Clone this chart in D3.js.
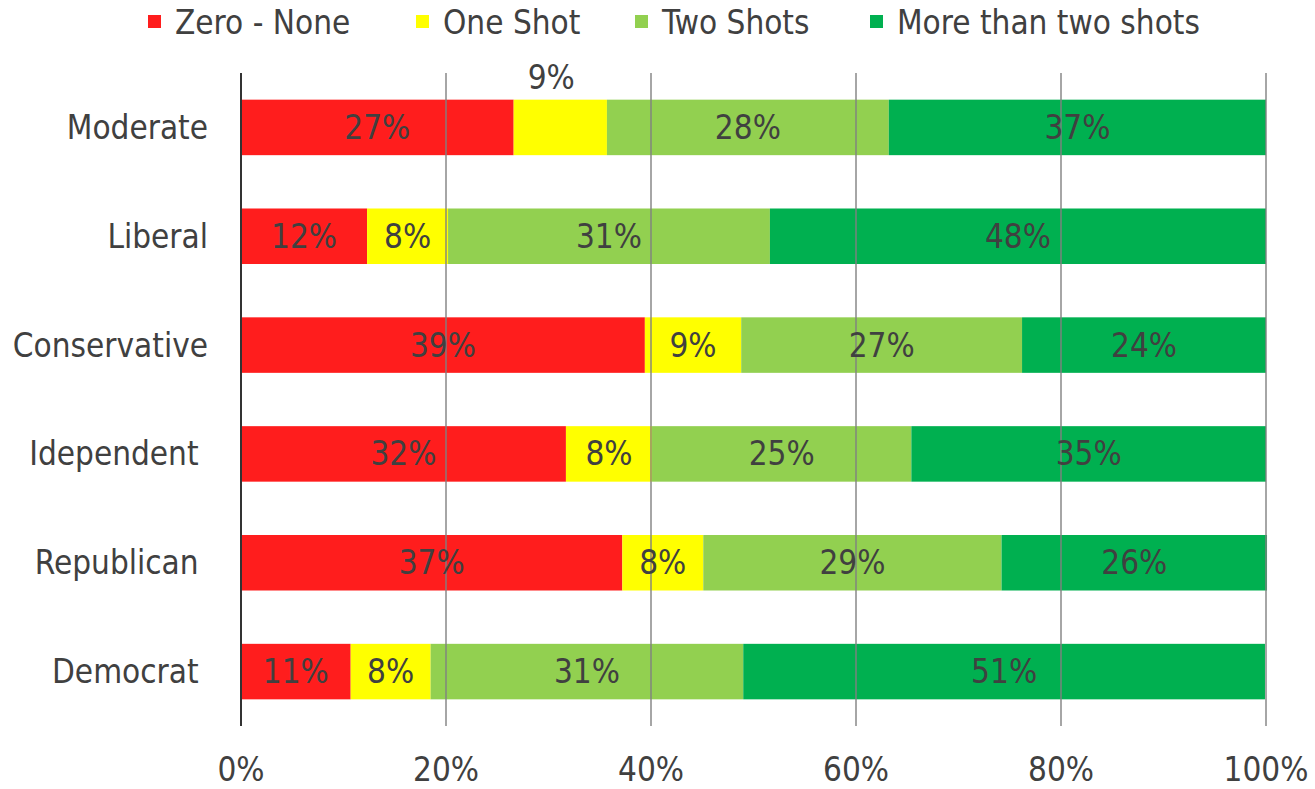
<!DOCTYPE html>
<html><head><meta charset="utf-8">
<script src="https://cdn.jsdelivr.net/npm/d3@7"></script>
<style>
body{margin:0;background:#fff;}
text{font-family:"DejaVu Sans Condensed","DejaVu Sans",sans-serif;font-stretch:condensed;fill:#404040;white-space:pre;}
</style></head>
<body><svg id="c" width="1315" height="789"></svg>
<script>
const categories = ["Moderate","Liberal","Conservative","Idependent ","Republican ","Democrat "];
const seriesNames = ["Zero - None","One Shot","Two Shots","More than two shots"];
const zeroNone   = [26.6, 12.3, 39.4, 31.7, 37.2, 10.7];
const oneShot    = [ 9.1,  7.9,  9.4,  8.4,  7.9,  7.8];
const twoShots   = [27.5, 31.4, 27.4, 25.3, 29.1, 30.5];
const moreThanTwo= [36.8, 48.4, 23.8, 34.6, 25.9, 50.9];
const tickValues = [0,20,40,60,80,100];
const colors = ["#FF1D1D","#FFFF00","#92D050","#00B050"];

const series = [zeroNone, oneShot, twoShots, moreThanTwo];
const FS = 33;
const svg = d3.select("#c");
const m = {left:241, right:1266, top:73, bottom:726};
const x = d3.scaleLinear().domain([0,100]).range([m.left, m.right]);
const y = d3.scaleBand().domain(categories).range([m.top, m.bottom]).paddingInner(0.49).paddingOuter(0.245);

const rows = categories.map((c,i)=>{ const o={cat:c}; seriesNames.forEach((s,j)=>o[s]=series[j][i]); return o; });
const stack = d3.stack().keys(seriesNames)(rows);

// bars
stack.forEach((layer,j)=>{
  svg.append("g").selectAll("rect").data(layer).join("rect")
    .attr("x", d=>x(d[0])).attr("width", d=>x(d[1])-x(d[0]))
    .attr("y", d=>y(d.data.cat)).attr("height", y.bandwidth())
    .attr("fill", colors[j]);
});

// gridlines
svg.append("g").selectAll("line").data(tickValues.slice(1)).join("line")
  .attr("x1", d=>x(d)).attr("x2", d=>x(d)).attr("y1", m.top).attr("y2", m.bottom)
  .attr("stroke","#808080").attr("stroke-width",2).attr("stroke-opacity",0.7);
svg.append("line").attr("x1",x(0)).attr("x2",x(0)).attr("y1",m.top).attr("y2",m.bottom)
  .attr("stroke","#333").attr("stroke-width",2);

// x tick labels
svg.append("g").selectAll("text").data(tickValues).join("text")
  .attr("x", d=>x(d)).attr("y", 769).attr("dy","0.35em").attr("text-anchor","middle")
  .attr("font-size",FS).text(d=>d+"%");

// category labels
svg.append("g").selectAll("text").data(categories).join("text")
  .attr("x", 208).attr("y", d=>y(d)+y.bandwidth()/2).attr("dy","0.35em").attr("text-anchor","end")
  .attr("font-size",FS).text(d=>d);

// value labels
stack.forEach((layer,j)=>{
  svg.append("g").selectAll("text").data(layer).join("text")
    .attr("x", d=>(x(d[0])+x(d[1]))/2)
    .attr("y", (d,i)=> (i===0 && j===1) ? y(d.data.cat)-22 : y(d.data.cat)+y.bandwidth()/2)
    .attr("dx",(d,i)=> (i===0 && j===1) ? -9 : 0)
    .attr("dy","0.35em").attr("text-anchor","middle").attr("font-size",FS)
    .text((d,i)=>{ const w = x(d[1])-x(d[0]); return (i===0&&j===1)||w>60 ? Math.round(d[1]-d[0])+"%" : ""; });
});

// legend
const legendX = [148, 416, 635, 870];
const lg = svg.append("g").selectAll("g").data(seriesNames).join("g")
  .attr("transform",(d,i)=>`translate(${legendX[i]},0)`);
lg.append("rect").attr("x",0).attr("y",15).attr("width",13).attr("height",13).attr("fill",(d,i)=>colors[i]);
lg.append("text").attr("x",27).attr("y",22).attr("dy","0.35em").attr("font-size",FS).text(d=>d);
</script></body></html>
